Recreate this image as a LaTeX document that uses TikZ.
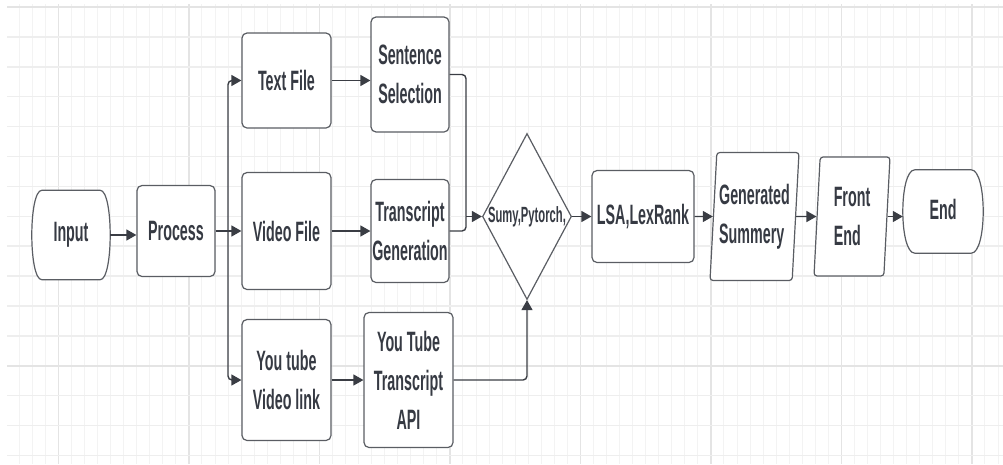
\documentclass[tikz,border=0pt]{standalone}
\usepackage{fontspec}
\setmainfont{Liberation Sans}[FakeStretch=0.51]
\usepackage{xcolor}
\usepackage{tikz}
\usetikzlibrary{positioning}
\usetikzlibrary{shapes.geometric}
\usetikzlibrary{backgrounds}
\usetikzlibrary{calc}
\usetikzlibrary{arrows.meta}

\definecolor{ink}{HTML}{363A43}
\definecolor{edge}{HTML}{5A5D63}
\definecolor{wire}{HTML}{3A3D44}
\definecolor{gridminor}{HTML}{F3F3F3}
\definecolor{gridrow}{HTML}{EEEEEE}
\definecolor{gridmajor}{HTML}{E4E4E4}

\pgfdeclarelayer{grid}
\pgfdeclarelayer{background}
\pgfsetlayers{grid,background,main}

% start/end outline: flat top and bottom, bulging sides
\newcommand{\termline}[2]{%
  \begin{scope}[on background layer]
    \draw[draw=edge, fill=white, line width=1.2pt]
      ($(#1.north west)+(#2,0)$) -- ($(#1.north east)+(-#2,0)$)
      .. controls ($(#1.north east)+(#2/3,0)$) and ($(#1.south east)+(#2/3,0)$)
      .. ($(#1.south east)+(-#2,0)$) -- ($(#1.south west)+(#2,0)$)
      .. controls ($(#1.south west)+(-#2/3,0)$) and ($(#1.north west)+(-#2/3,0)$)
      .. ($(#1.north west)+(#2,0)$) -- cycle;
  \end{scope}}

\begin{document}
\begin{tikzpicture}
  [ x=1pt, y=-1pt,
    txt/.style={font=\fontsize{28}{39}\selectfont\bfseries, text=ink,
      align=center, inner sep=0pt},
    box/.style={txt, rectangle, rounded corners=5pt, draw=edge,
      line width=1.2pt, fill=white},
    term/.style={txt},
    para/.style={txt, trapezium, trapezium left angle=84,
      trapezium right angle=96, trapezium stretches body,
      rounded corners=3pt, draw=edge, line width=1.2pt, fill=white,
      align=left},
    dec/.style={diamond, draw=edge, line width=1.2pt, fill=white,
      inner sep=0pt, text=ink, font=\fontsize{22}{26}\selectfont\bfseries},
    ld/.style={draw=wire, line width=1.4pt, rounded corners=4pt,
      -{Triangle[length=10pt,width=11pt]}},
    link/.style={draw=wire, line width=1.4pt, rounded corners=4pt}
  ]

  \useasboundingbox (0,0) rectangle (1003,464);

  \begin{pgfonlayer}{grid}
    \foreach \i in {1,...,76}
      \draw[gridminor, line width=1pt] ({6.2+13.05*\i},4) -- ({6.2+13.05*\i},464);
    \foreach \i in {4,14,...,74}
      \draw[gridmajor, line width=1.3pt] ({6.2+13.05*\i},4) -- ({6.2+13.05*\i},464);
    \foreach \j in {0,...,15}
      \draw[gridrow, line width=1.5pt] (7,{7+29.9*\j}) -- (1003,{7+29.9*\j});
    \foreach \j in {0,12}
      \draw[gridmajor, line width=2pt] (7,{7+29.9*\j}) -- (1003,{7+29.9*\j});
  \end{pgfonlayer}

  \node (input)     at (71,235)    [term, minimum width=78pt, minimum height=89pt]  {Input};
  \node (process)   at (176,231)   [box, minimum width=78pt, minimum height=91pt]   {Process};
  \node (textfile)  at (286.5,80.5) [box, minimum width=89pt, minimum height=95pt] {Text File};
  \node (sentsel)   at (410,74.5)  [box, minimum width=78pt, minimum height=115pt]  {Sentence\\Selection};
  \node (videofile) at (286.5,231) [box, minimum width=89pt, minimum height=117pt]  {Video File};
  \node (transgen)  at (410,231)   [box, minimum width=78pt, minimum height=103pt]  {Transcript\\Generation};
  \node (ytlink)    at (286.5,380) [box, minimum width=89pt, minimum height=121pt]  {You tube\\Video link};
  \node (ytapi)     at (408.5,380) [box, minimum width=89pt, minimum height=135pt]  {You Tube\\Transcript\\API};
  \node (tools)     at (527,216.5) [dec, minimum width=89pt, minimum height=166pt]  {\makebox[0pt]{Sumy,Pytorch,}};
  \node (lsa)       at (643,216.5) [box, minimum width=102pt, minimum height=92pt]  {LSA,LexRank};
  \node (summary)   at (754.5,216.5) [para, minimum width=89pt, minimum height=128pt] {Generated\\Summery};
  \node (frontend)  at (852,216.5) [para, minimum width=76pt, minimum height=119pt] {Front\\End};
  \node (finish)    at (943,211.5) [term, minimum width=80pt, minimum height=83pt]  {\raisebox{5pt}{End}};

  \termline{input}{10}
  \termline{finish}{12}

  \coordinate (fork)  at (228,231);
  \coordinate (merge) at (466,216.5);

  \draw[ld] (input.east) -- (input.east -| process.west);
  \draw[ld] (process) -- (videofile);
  \draw[ld] (fork) |- (textfile.west);
  \draw[ld] (fork) |- (ytlink.west);

  \draw[ld] (textfile.east) -- (textfile.east -| sentsel.west);
  \draw[ld] (videofile) -- (transgen);
  \draw[ld] (ytlink) -- (ytapi);

  \draw[link] (sentsel.east) -| (merge);
  \draw[link] (transgen.east) -| (merge);
  \draw[ld] (merge) -- (tools.west);
  \draw[ld] (ytapi.east) -| (tools.south);

  \draw[ld] (tools) -- (lsa);
  \draw[ld] (lsa) -- (summary);
  \draw[ld] (summary) -- (frontend);
  \draw[ld] (frontend.east) -- (frontend.east -| finish.west);
\end{tikzpicture}
\end{document}
